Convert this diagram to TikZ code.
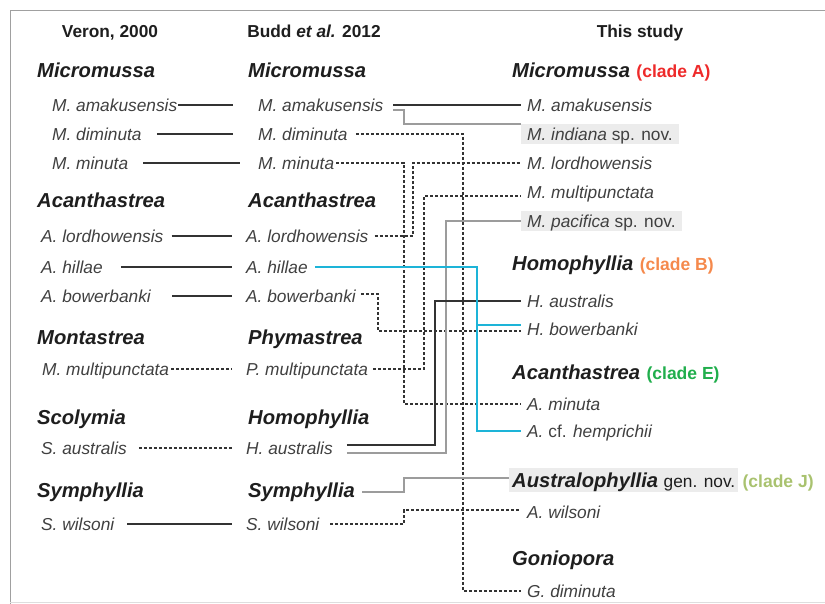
\documentclass[tikz,border=0pt]{standalone}
\usepackage{fontspec}
\setmainfont{Liberation Sans}
\definecolor{txtgray}{HTML}{404040}
\definecolor{genblack}{HTML}{1E1E1E}
\definecolor{linedark}{HTML}{333333}
\definecolor{linegray}{HTML}{9C9C9C}
\definecolor{linecyan}{HTML}{1DB4D8}
\definecolor{newbox}{HTML}{ECECEC}
\definecolor{framegray}{HTML}{A0A0A0}
\definecolor{cladeA}{HTML}{EE2A2A}
\definecolor{cladeB}{HTML}{F5894C}
\definecolor{cladeE}{HTML}{20AE4C}
\definecolor{cladeJ}{HTML}{A9C26F}
\tikzset{
  head/.style={font=\fontsize{17.3}{20}\selectfont\bfseries, text=genblack, text height=12.4pt, text depth=0pt, inner sep=0pt},
  genus/.style={font=\fontsize{20.2}{24}\selectfont\bfseries\itshape, text=genblack, text height=14.4pt, text depth=0pt, inner sep=0pt, anchor=west},
  species/.style={font=\fontsize{17.3}{20}\selectfont\itshape, text=txtgray, text height=12.4pt, text depth=0pt, inner xsep=0pt, inner ysep=4pt, anchor=west},
  species3/.style={species, inner xsep=6pt},
  newsp/.style={species3, fill=newbox},
  clade/.style={font=\fontsize{17.5}{20}\selectfont\bfseries, inner sep=0pt, anchor=base west},
  solidlink/.style={draw=linedark, line width=2pt},
  greylink/.style={draw=linegray, line width=2pt},
  dashlink/.style={draw=linedark, line width=1.8pt, dash pattern=on 3pt off 2pt},
  cyanlink/.style={draw=linecyan, line width=2pt}
}
\begin{document}
\begin{tikzpicture}[x=1pt,y=-1pt]
\useasboundingbox (0,0) rectangle (825,603);
\draw[framegray, line width=1pt] (826,10) -- (10,10) -- (10,604);
\draw[framegray!35, line width=1pt] (10,602) -- (826,602);

\node[head] (hVeron) at (110,31) {Veron, 2000};
\node[head] (hBudd) at (314,31) {Budd \textit{et al.} 2012};
\node[head] (hThis) at (640,31) {This study};

\node[genus] (gMicro1) at (37,70) {Micromussa};
\node[genus] (gAcan1) at (37,200) {Acanthastrea};
\node[genus] (gMont1) at (37,337) {Montastrea};
\node[genus] (gScol1) at (37,417) {Scolymia};
\node[genus] (gSym1) at (37,490) {Symphyllia};

\node[species] (vAmak) at (52,105) {M. amakusensis};
\node[species] (vDim) at (52,134) {M. diminuta};
\node[species] (vMin) at (52,163) {M. minuta};
\node[species] (vLord) at (41,236) {A. lordhowensis};
\node[species] (vHil) at (41,267) {A. hillae};
\node[species] (vBow) at (41,296) {A. bowerbanki};
\node[species] (vMult) at (42,369) {M. multipunctata};
\node[species] (vAus) at (41,448) {S. australis};
\node[species] (vWil) at (41,524) {S. wilsoni};

\node[genus] (gMicro2) at (248,70) {Micromussa};
\node[genus] (gAcan2) at (248,200) {Acanthastrea};
\node[genus] (gPhym2) at (248,337) {Phymastrea};
\node[genus] (gHomo2) at (248,417) {Homophyllia};
\node[genus] (gSym2) at (248,490) {Symphyllia};

\node[species] (bAmak) at (258,105) {M. amakusensis};
\node[species] (bDim) at (258,134) {M. diminuta};
\node[species] (bMin) at (258,163) {M. minuta};
\node[species] (bLord) at (246,236) {A. lordhowensis};
\node[species] (bHil) at (246,267) {A. hillae};
\node[species] (bBow) at (246,296) {A. bowerbanki};
\node[species] (bMult) at (246,369) {P. multipunctata};
\node[species] (bAus) at (246,448) {H. australis};
\node[species] (bWil) at (246,524) {S. wilsoni};

\node[genus] (gMicro3) at (512,70) {Micromussa};
\node[genus] (gHomo3) at (512,263) {Homophyllia};
\node[genus] (gAcan3) at (512,372) {Acanthastrea};
\node[genus, fill=newbox, inner xsep=3pt, inner ysep=4.5pt] (gAustr) at (509,480) {Australophyllia {\fontsize{17.3}{20}\selectfont\mdseries\upshape gen. nov.}};
\node[genus] (gGonio3) at (512,558) {Goniopora};

\node[clade, text=cladeA] (cA) at ([xshift=6pt]gMicro3.base east) {(clade A)};
\node[clade, text=cladeB] (cB) at ([xshift=6pt]gHomo3.base east) {(clade B)};
\node[clade, text=cladeE] (cE) at ([xshift=6pt]gAcan3.base east) {(clade E)};
\node[clade, text=cladeJ] (cJ) at ([xshift=4pt]gAustr.base east) {(clade J)};

\node[species3] (tAmak) at (521,105) {M. amakusensis};
\node[newsp] (tInd) at (521,134) {M. indiana {\upshape sp. nov.}};
\node[species3] (tLord) at (521,163) {M. lordhowensis};
\node[species3] (tMult) at (521,192) {M. multipunctata};
\node[newsp] (tPac) at (521,221) {M. pacifica {\upshape sp. nov.}};
\node[species3] (tHAus) at (521,301) {H. australis};
\node[species3] (tHBow) at (521,329) {H. bowerbanki};
\node[species3] (tAMin) at (521,404) {A. minuta};
\node[species3] (tAHem) at (521,431) {A. {\upshape cf.} hemprichii};
\node[species3] (tAWil) at (521,512) {A. wilsoni};
\node[species3] (tGDim) at (521,591) {G. diminuta};

\coordinate (lnBow) at (378,0);
\coordinate (lnAmk) at (404,0);
\coordinate (lnMin) at (404,0);
\coordinate (lnLord) at (413,0);
\coordinate (lnMult) at (424,0);
\coordinate (lnHAus) at (435,0);
\coordinate (lnPac) at (446,0);
\coordinate (lnDim) at (463,0);
\coordinate (lnHil) at (477,0);
\coordinate (tMultC) at ([yshift=-4pt]tMult.west);
\coordinate (tHBowU) at ([yshift=4pt]tHBow.west);
\coordinate (tHBowD) at ([yshift=-2pt]tHBow.west);
\coordinate (gAustrU) at ([yshift=2pt]gAustr.west);
\coordinate (tAWilU) at ([yshift=2pt]tAWil.west);

\draw[solidlink] ([xshift=1pt]vAmak.east) -- ([xshift=-25pt]bAmak.west);
\draw[solidlink] ([xshift=15pt]vDim.east) -- ([xshift=-25pt]bDim.west);
\draw[solidlink] ([xshift=15pt]vMin.east) -- ([xshift=-18pt]bMin.west);
\draw[solidlink] ([xshift=8pt]vLord.east) -- ([xshift=-14pt]bLord.west);
\draw[solidlink] ([xshift=18pt]vHil.east) -- ([xshift=-14pt]bHil.west);
\draw[solidlink] ([xshift=21pt]vBow.east) -- ([xshift=-14pt]bBow.west);
\draw[dashlink] ([xshift=2pt]vMult.east) -- ([xshift=-14pt]bMult.west);
\draw[dashlink] ([xshift=12pt]vAus.east) -- ([xshift=-14pt]bAus.west);
\draw[solidlink] ([xshift=13pt]vWil.east) -- ([xshift=-14pt]bWil.west);

\draw[dashlink] ([xshift=8pt]bDim.east) -| (lnDim |- tGDim.west) -- (tGDim.west);
\draw[dashlink] ([xshift=2pt]bMin.east) -| (lnMin |- tAMin.west) -- (tAMin.west);
\draw[dashlink] ([xshift=6pt]bLord.east) -| (lnLord |- tLord.west) -- (tLord.west);
\draw[dashlink] ([xshift=5pt]bMult.east) -| (lnMult |- tMultC) -- (tMultC);
\draw[dashlink] ([xshift=5pt,yshift=2pt]bBow.east) -| (lnBow |- tHBowD) -- (tHBowD);
\draw[dashlink] ([xshift=11pt]bWil.east) -| (lnMin |- tAWilU) -- (tAWilU);
\draw[greylink] ([xshift=10pt,yshift=-5pt]bAmak.east) -| (lnAmk |- tInd.north west) -- (tInd.north west);
\draw[greylink] ([xshift=14pt,yshift=-5pt]bAus.east) -| (lnPac |- tPac.west) -- (tPac.west);
\draw[greylink] ([xshift=7pt,yshift=-2pt]gSym2.east) -| (lnMin |- gAustrU) -- (gAustrU);
\draw[solidlink, line width=2.4pt] ([xshift=10pt]bAmak.east) -- (tAmak.west);
\draw[solidlink] ([xshift=14pt,yshift=3pt]bAus.east) -| (lnHAus |- tHAus.west) -- (tHAus.west);
\draw[cyanlink] ([xshift=7pt]bHil.east) -| (lnHil |- tAHem.west) -- (tAHem.west);
\draw[cyanlink] (lnHil |- tHBowU) -- (tHBowU);
\end{tikzpicture}
\end{document}
